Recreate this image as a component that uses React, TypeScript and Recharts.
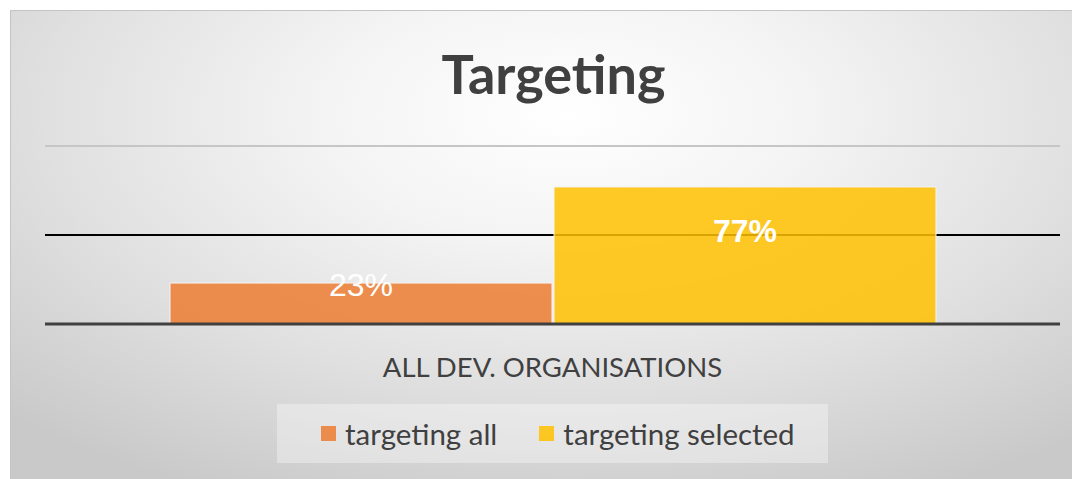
import React from 'react';
import { BarChart, Bar, XAxis, YAxis, CartesianGrid, LabelList } from 'recharts';

const categories = ['ALL DEV. ORGANISATIONS'];
const targetingAll = [0.23];
const targetingSelected = [0.77];
const yTicks = [0, 0.5, 1];

const series = [
  { key: 'all', name: 'targeting all', color: '#ED7D31', weight: 400, labelDy: 13 },
  { key: 'selected', name: 'targeting selected', color: '#FFC000', weight: 700, labelDy: 55 },
];

const data = categories.map((c, i) => ({
  name: c,
  all: targetingAll[i],
  selected: targetingSelected[i],
}));

const FONT = 'Lato, "Open Sans", sans-serif';

const makeLabel = (dy: number, weight: number) => (props: any) => {
  const { x, y, width, value } = props;
  return (
    <text
      x={x + width / 2}
      y={y + dy}
      textAnchor="middle"
      fill="#fff"
      fontSize={32}
      fontWeight={weight}
      fontFamily='"Liberation Sans", Arial, sans-serif'
    >
      {Math.round(value * 100)}%
    </text>
  );
};

function LegendBox() {
  return (
    <div
      style={{
        position: 'absolute',
        left: 266,
        top: 393,
        width: 551,
        height: 59,
        background: 'rgba(255,255,255,0.35)',
        display: 'flex',
        alignItems: 'center',
        paddingLeft: 44,
        boxSizing: 'border-box',
        fontFamily: FONT,
        fontSize: 29.5,
        color: '#404040',
        whiteSpace: 'nowrap',
      }}
    >
      {series.map((s) => (
        <div key={s.key} style={{ display: 'flex', alignItems: 'center', marginRight: 42, flexShrink: 0 }}>
          <span
            style={{
              width: 15,
              height: 15,
              background: s.color,
              opacity: 0.85,
              marginRight: 9,
              display: 'inline-block',
              flexShrink: 0,
            }}
          />
          <span>{s.name}</span>
        </div>
      ))}
    </div>
  );
}

export default function App() {
  return (
    <div
      style={{
        position: 'relative',
        width: 1070,
        height: 469,
        marginLeft: 2,
        marginTop: 2,
        borderTop: '1px solid #c4c4c4',
        borderLeft: '1px solid #c4c4c4',
        boxSizing: 'border-box',
        background: 'radial-gradient(ellipse 75% 90% at 52% 22%, #ffffff 0%, #f4f4f4 30%, #e0e0e0 65%, #c9c9c9 100%)',
      }}
    >
      <div
        style={{
          position: 'absolute',
          left: 0,
          top: 30,
          width: 1085,
          textAlign: 'center',
          fontFamily: FONT,
          fontWeight: 700,
          fontSize: 54,
          color: '#404040',
        }}
      >
        Targeting
      </div>
      <BarChart
        width={1063}
        height={462}
        data={data}
        margin={{ top: 135, right: 14, bottom: 119, left: 34 }}
        barCategoryGap={125}
        barGap={2}
      >
        <CartesianGrid horizontalValues={[1]} vertical={false} stroke="#c6c6c6" strokeWidth={2} />
        <CartesianGrid horizontalValues={[0.5]} vertical={false} stroke="#000" strokeWidth={2} />
        <XAxis
          dataKey="name"
          axisLine={{ stroke: '#404040', strokeWidth: 3 }}
          tickLine={false}
          tickSize={0}
          tickMargin={33}
          tick={{ fill: '#404040', fontSize: 27.5, fontFamily: FONT }}
        />
        <YAxis hide domain={[0, 1]} ticks={yTicks} />
        {series.map((s) => (
          <Bar
            key={s.key}
            dataKey={s.key}
            name={s.name}
            fill={s.color}
            fillOpacity={0.85}
            stroke="#f4f4f4"
            strokeWidth={1}
            isAnimationActive={false}
          >
            <LabelList dataKey={s.key} content={makeLabel(s.labelDy, s.weight)} />
          </Bar>
        ))}
      </BarChart>
      <LegendBox />
    </div>
  );
}
